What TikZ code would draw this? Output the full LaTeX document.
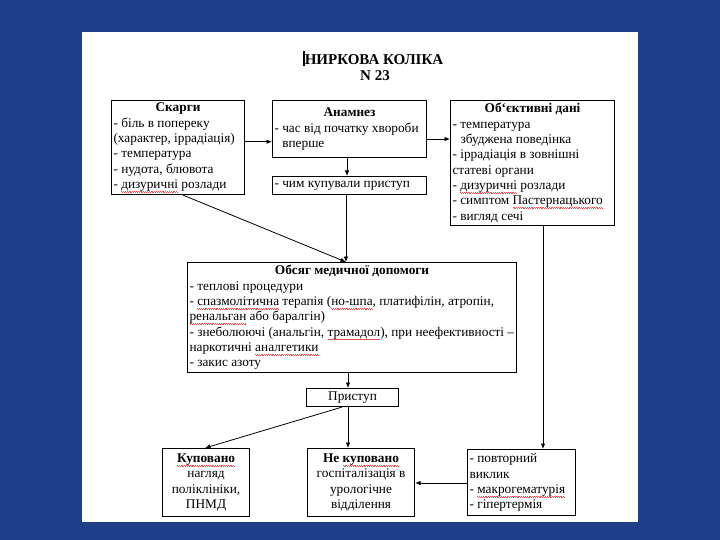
\documentclass[tikz,border=0pt]{standalone}
\usepackage{fontspec}
\setmainfont{Liberation Serif}
\usetikzlibrary{arrows.meta}
\definecolor{bgblue}{RGB}{30,62,138}
\definecolor{spellred}{RGB}{230,80,80}
\newcommand\fs{\fontsize{13.3}{15.3}\selectfont}
\newcommand\wavepiece{\hbox{\vrule width 0.9pt height -2.6pt depth 3.1pt\vrule width 0.9pt height -3.2pt depth 3.7pt}}
\newcommand\spl[1]{\leavevmode\setbox0\hbox{#1}\rlap{\textcolor{spellred}{\hbox to \wd0{\xleaders\wavepiece\hfil}}}\box0\relax}
\begin{document}
\begin{tikzpicture}[x=1pt,y=-1pt,
  box/.style={draw=black, line width=1.1pt, inner sep=0pt, anchor=north west, font=\fs},
  lbox/.style={box, align=flush left},
  cbox/.style={box, align=flush center},
  arr/.style={-{Latex[length=5.5pt,width=4.5pt]}, line width=0.8pt}]
\useasboundingbox (0,0) rectangle (720,540);
\fill[bgblue] (0,0) rectangle (720,540);
\fill[white] (82,32) rectangle (638,522);
% title
\fill[black] (302.5,51.5) rectangle (305.2,66.5);
\node[anchor=base, font=\bfseries\fontsize{15}{16.4}\selectfont, inner sep=0pt] (title1) at (374,64.3) {НИРКОВА КОЛІКА};
\node[anchor=base, font=\bfseries\fontsize{15}{16.4}\selectfont, inner sep=0pt] (title2) at (375,80.7) {N 23};
% boxes
\node[lbox, minimum width=133pt, minimum height=94pt, text width=129pt] (skargy) at (111,100)
 {\makebox[\linewidth]{\bfseries Скарги}\\
  - біль в попереку\\
  (характер, іррадіація)\\
  - температура\\
  - нудота, блювота\\
  - \spl{дизуричні} розлади};
\node[lbox, minimum width=154pt, minimum height=57pt, text width=150pt] (anamnez) at (272,100)
 {\makebox[\linewidth]{\bfseries Анамнез}\\
  - час від початку хвороби\\
  \phantom{- }вперше};
\node[lbox, minimum width=154pt, minimum height=18pt, text width=150pt] (chym) at (272,176)
 {- чим купували приступ};
\node[lbox, minimum width=164pt, minimum height=125pt, text width=160pt] (objective) at (450,100)
 {\makebox[\linewidth]{\bfseries Об`єктивні дані}\\
  - температура\\
  \hspace*{8pt}збуджена поведінка\\
  - іррадіація в зовнішні\\
  статеві органи\\
  - \spl{дизуричні} розлади\\
  - симптом \spl{Пастернацького}\\
  - вигляд сечі};
\node[lbox, minimum width=329pt, minimum height=110pt, text width=325pt] (medical) at (187,262)
 {\makebox[\linewidth]{\bfseries Обсяг медичної допомоги}\\
  - теплові процедури\\
  \mbox{- \spl{спазмолітична} терапія (\spl{но-шпа}, платифілін, атропін,}\\
  \spl{ренальган} або баралгін)\\
  \mbox{- знеболюючі (анальгін, \spl{трамадол}), при неефективності –}\\
  наркотичні \spl{аналгетики}\\
  - закис азоту};
\node[cbox, minimum width=92pt, minimum height=18pt] (pristup) at (306,388) {Приступ};
\node[cbox, minimum width=87pt, minimum height=68pt, text width=85pt] (kup) at (162,448)
 {\textbf{\spl{Куповано}}\\нагляд\\поліклініки,\\ПНМД};
\node[cbox, minimum width=107pt, minimum height=68pt, text width=105pt] (nekup) at (307,448)
 {\textbf{Не \spl{куповано}}\\госпіталізація в\\урологічне\\відділення};
\node[lbox, minimum width=108pt, minimum height=66pt, text width=104pt] (povt) at (467,449)
 {- повторний\\виклик\\- \spl{макрогематурія}\\- гіпертермія};
% connectors
\draw[arr] (skargy.east |- 0,141.7) -- (anamnez.west |- 0,141.7);
\draw[arr] (anamnez.east |- 0,139) -- (objective.west |- 0,139);
\draw[arr] (anamnez.south -| 347,0) -- (chym.north -| 347,0);
\draw[arr] (chym.south -| 346,0) -- (medical.north -| 346,0);
\draw[arr] (skargy.south -| 183,0) -- (medical.north -| 346,0);
\draw[arr] (objective.south -| 543,0) -- (povt.north -| 543,0);
\draw[arr] (medical.south -| 348,0) -- (pristup.north -| 348,0);
\draw[arr] (pristup.south -| 348,0) -- (nekup.north -| 348,0);
\draw[arr] (pristup.south -| 342,0) -- (kup.north -| 205,0);
\draw[arr] (povt.west |- 0,483) -- (nekup.east |- 0,483);
\end{tikzpicture}
\end{document}
